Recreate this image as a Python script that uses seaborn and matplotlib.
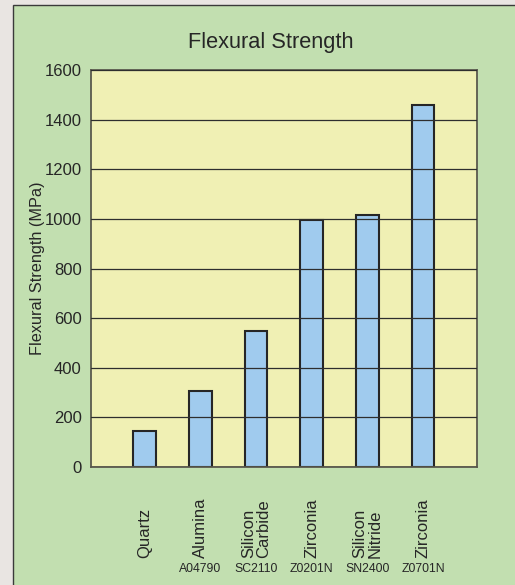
"""
Flexural strength of ceramic materials, bar chart recreated with seaborn
"""

import pandas as pd
import matplotlib.pyplot as plt
import seaborn as sns
from matplotlib.patches import Rectangle

# data
materials = ['Quartz', 'Alumina', 'Silicon\nCarbide', 'Zirconia', 'Silicon\nNitride', 'Zirconia']
grades = ['', 'A04790', 'SC2110', 'Z0201N', 'SN2400', 'Z0701N']
strength = [147, 306, 548, 994, 1015, 1460]
y_ticks = [0, 200, 400, 600, 800, 1000, 1200, 1400, 1600]

df = pd.DataFrame({'material': materials, 'grade': grades, 'strength': strength})
# materials repeat (two Zirconia), so key the bars by material + grade
df['key'] = df['material'] + ' ' + df['grade']

sns.set_style('white')
plt.rcParams['font.family'] = ['Liberation Sans', 'DejaVu Sans']
text_color = '#262626'

fig = plt.figure(figsize=(5.15, 5.85), dpi=100)
fig.patch.set_facecolor('#e9e5e2')

# green panel behind everything
panel = Rectangle((0.0250, -0.02), 1.0, 1.0115, transform=fig.transFigure,
                  facecolor='#c2dfb0', edgecolor='#3a3a3a', linewidth=1.0, zorder=-1)
fig.patches.append(panel)

ax = fig.add_axes([0.1773, 0.2017, 0.7495, 0.6786])
ax.set_facecolor('#f0f0b4')

sns.barplot(data=df, x='key', y='strength', ax=ax, width=0.41, color='#a0cbee',
            saturation=1, edgecolor='#262626', linewidth=1.5)

ax.set_ylim(0, 1600)
ax.set_xlim(-0.96, 5.977)
ax.set_yticks(y_ticks)
ax.set_yticklabels([str(t) for t in y_ticks], fontsize=12, color=text_color)
ax.tick_params(axis='y', direction='out', length=5, width=0.9, color='#444444', pad=2)
ax.set_xticks(range(len(materials)))
ax.set_xticklabels([''] * len(materials))
ax.tick_params(axis='x', length=0)

# gridlines drawn over the bars
ax.set_axisbelow(False)
ax.yaxis.grid(True, color='#2e2e2e', linewidth=0.9)
ax.xaxis.grid(False)

for side in ['left', 'right', 'top', 'bottom']:
    ax.spines[side].set_visible(True)
    ax.spines[side].set_color('#5a5a4e')
    ax.spines[side].set_linewidth(1.3)

ax.set_xlabel('')
ax.set_ylabel('Flexural Strength (MPa)', fontsize=11.7, color=text_color)
ax.yaxis.set_label_coords(-0.12, 0.5)

# category names rotated, grade codes underneath
trans = ax.get_xaxis_transform()
for i, (name, code) in enumerate(zip(materials, grades)):
    ax.text(i, -0.229, name, transform=trans, rotation=90, ha='center', va='bottom',
            multialignment='left', fontsize=12, linespacing=1.0, color=text_color)
    if code:
        ax.text(i, -0.257, code, transform=trans, ha='center', va='center',
                fontsize=8.8, color=text_color)

fig.text(0.526, 0.928, 'Flexural Strength', ha='center', va='center',
         fontsize=15.7, color=text_color)

fig.savefig('out.png', dpi=100, facecolor=fig.get_facecolor())
